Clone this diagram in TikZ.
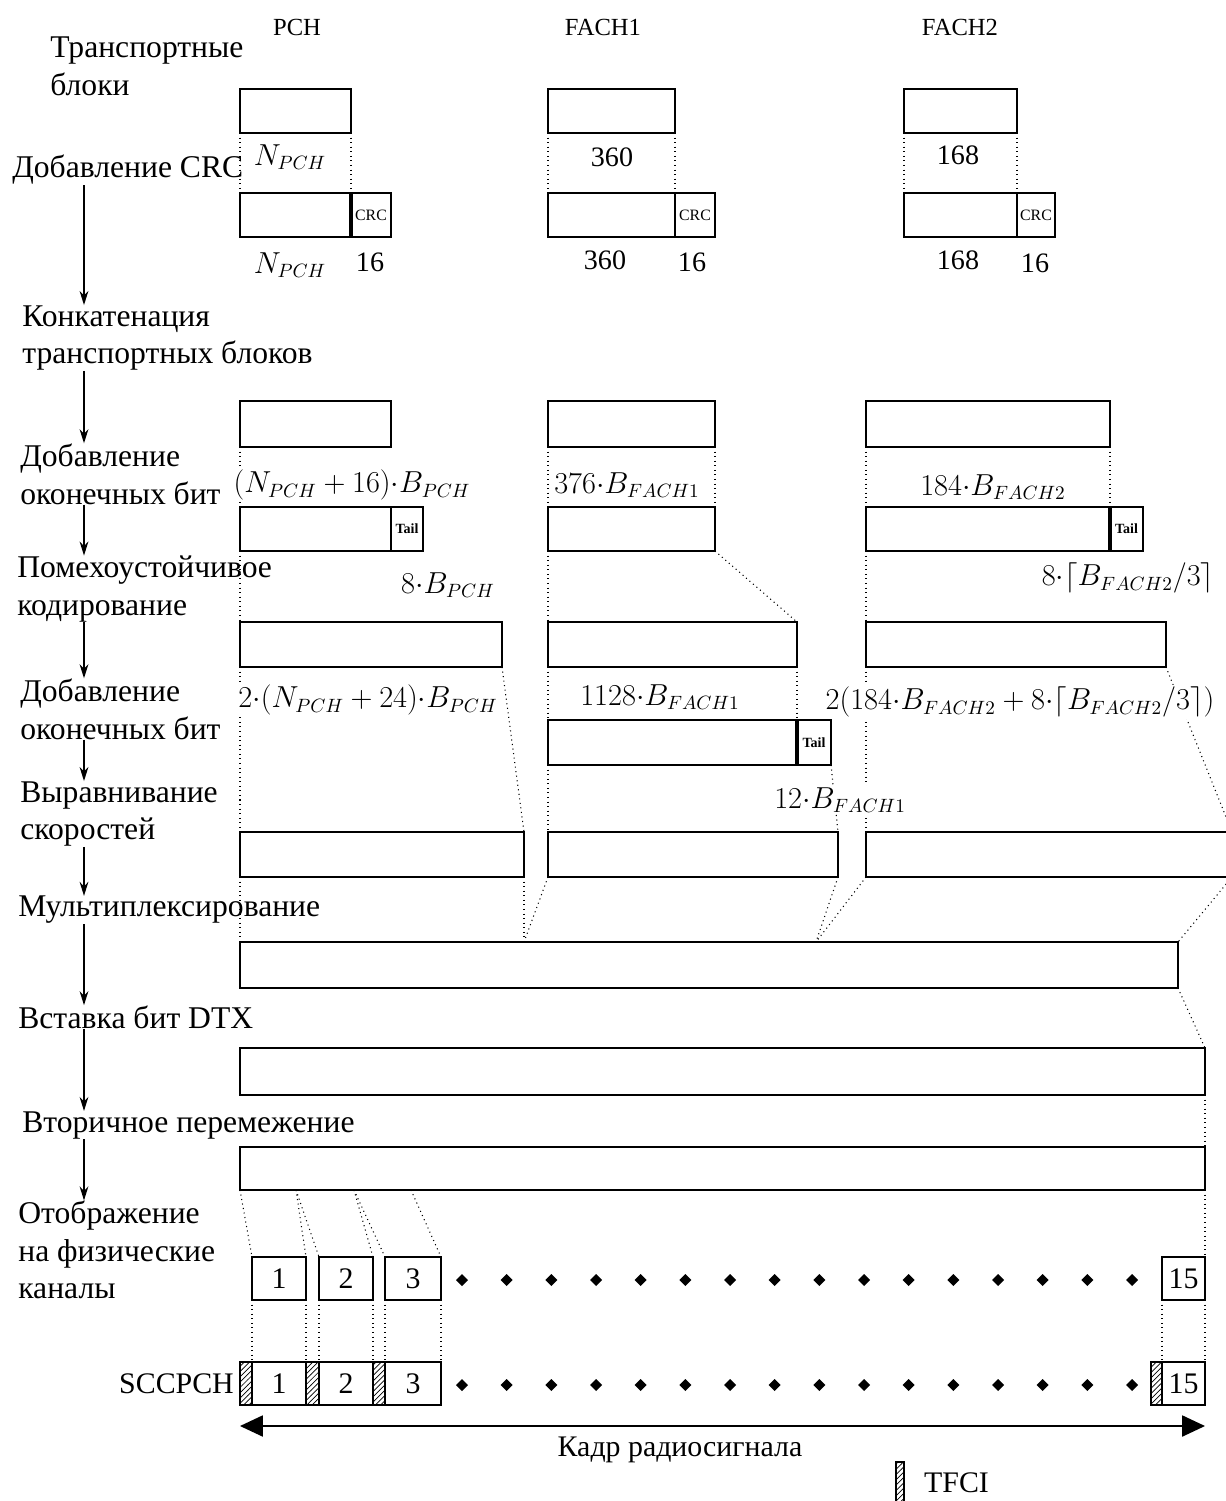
\documentclass[tikz,border=0pt]{standalone}
\usepackage{fontspec}
\setmainfont{Liberation Serif}
\usetikzlibrary{arrows.meta, fit, patterns}

\begin{document}
\begin{tikzpicture}[x=0.02cm, y=-0.02cm,
    blk/.style={draw, line width=0.9pt, inner sep=0pt, outer sep=0pt},
    crc/.style={blk, label={[font=\fontsize{9}{9}\selectfont]center:CRC}},
    tailbox/.style={blk, label={[font=\bfseries\fontsize{8}{8}\selectfont]center:Tail}},
    slot/.style={blk, label={[font=\fontsize{17}{20}\selectfont]center:#1}},
    tfci/.style={blk, pattern=north east lines},
    sep/.style={line width=2.2pt},
    link/.style={dotted, line width=0.6pt},
    flow/.style={-{Stealth[length=8pt, width=5pt]}, line width=0.8pt},
    frame/.style={{Triangle[length=13pt, width=12pt]}-{Triangle[length=13pt, width=12pt]}, line width=0.9pt},
    steplbl/.style={align=left, anchor=west, inner sep=0pt, font=\fontsize{18}{21.5}\selectfont},
    val/.style={fill=white, inner sep=1pt, font=\fontsize{16}{19}\selectfont},
    hdr/.style={font=\fontsize{14}{16}\selectfont},
    num/.style={font=\fontsize{17}{20}\selectfont}
  ]
    \path[use as bounding box, clip] (0,0) rectangle (1226,1501);

    % Шаги обработки (слева)
    \node[steplbl] (s1) at (50,66) {Транспортные\\блоки};
    \node[steplbl] (s2) at (12,170) {Добавление CRC};
    \node[steplbl] (s3) at (22,338) {Конкатенация\\транспортных блоков};
    \node[steplbl] (s4) at (20,474) {Добавление\\оконечных бит};
    \node[steplbl] (s5) at (17,589) {Помехоустойчивое\\кодирование};
    \node[steplbl] (s6) at (20,709) {Добавление\\оконечных бит};
    \node[steplbl] (s7) at (20,814) {Выравнивание\\скоростей};
    \node[steplbl] (s8) at (18,910) {Мультиплексирование};
    \node[steplbl] (s9) at (18,1017) {Вставка бит DTX};
    \node[steplbl] (s10) at (22,1125) {Вторичное перемежение};
    \node[steplbl] (s11) at (18,1250) {Отображение\\на физические\\каналы};

    \coordinate (ax) at (84,0);
    \foreach \a/\b in {s2/s3, s3/s4, s4/s5, s5/s6, s6/s7, s7/s8, s8/s9, s9/s10, s10/s11}
      \draw[flow] (\a.south -| ax) -- (\b.north -| ax);

    % Заголовки каналов
    \node[hdr] (hpch) at (297,27) {PCH};
    \node[hdr] (hf1) at (603,27) {FACH1};
    \node[hdr] (hf2) at (960,27) {FACH2};

    % Транспортные блоки
    \node[blk, fit={(240,89) (351,133)}] (p1) {};
    \node[blk, fit={(548,89) (675,133)}] (a1) {};
    \node[blk, fit={(904,89) (1017,133)}] (b1) {};

    % Добавление CRC
    \node[blk, fit={(240,193) (351,237)}] (p2) {};
    \node[crc, fit={(351,193) (391,237)}] (p2c) {};
    \node[blk, fit={(548,193) (675,237)}] (a2) {};
    \node[crc, fit={(675,193) (715,237)}] (a2c) {};
    \node[blk, fit={(904,193) (1017,237)}] (b2) {};
    \node[crc, fit={(1017,193) (1055,237)}] (b2c) {};
    \draw[sep] (p2.north east) -- (p2.south east);

    % Конкатенация
    \node[blk, fit={(240,401) (391,447)}] (p3) {};
    \node[blk, fit={(548,401) (715,447)}] (a3) {};
    \node[blk, fit={(866,401) (1110,447)}] (b3) {};

    % Оконечные биты
    \node[blk, fit={(240,507) (391,551)}] (p4) {};
    \node[tailbox, fit={(391,507) (423,551)}] (p4t) {};
    \node[blk, fit={(548,507) (715,551)}] (a4) {};
    \node[blk, fit={(866,507) (1110,551)}] (b4) {};
    \node[tailbox, fit={(1110,507) (1143,551)}] (b4t) {};
    \draw[sep] (b4.north east) -- (b4.south east);

    % Кодирование
    \node[blk, fit={(240,622) (502,667)}] (p5) {};
    \node[blk, fit={(548,622) (797,667)}] (a5) {};
    \node[blk, fit={(866,622) (1166,667)}] (b5) {};

    % Оконечные биты FACH1
    \node[blk, fit={(548,720) (797,765)}] (a5b) {};
    \node[tailbox, fit={(797,720) (831,765)}] (a5t) {};
    \draw[sep] (a5b.north east) -- (a5b.south east);

    % Выравнивание скоростей
    \node[blk, fit={(240,832) (524,877)}] (p6) {};
    \node[blk, fit={(548,832) (838,877)}] (a6) {};
    \node[blk, fit={(866,832) (1232,877)}] (b6) {};

    % Мультиплексирование, DTX, перемежение
    \node[blk, fit={(240,942) (1178,988)}] (mx) {};
    \node[blk, fit={(240,1048) (1205,1095)}] (dtx) {};
    \node[blk, fit={(240,1147) (1205,1190)}] (il) {};
    \coordinate (mj1) at (524,942);
    \coordinate (mj2) at (816,942);
    \coordinate (ij1) at (296,1190);
    \coordinate (ij2) at (354,1190);
    \coordinate (ij3) at (411,1190);

    % Физические каналы
    \node[slot=1, fit={(252,1257) (306,1300)}] (ph1) {};
    \node[slot=2, fit={(319,1257) (373,1300)}] (ph2) {};
    \node[slot=3, fit={(385,1257) (441,1300)}] (ph3) {};
    \node[slot=15, fit={(1162,1257) (1205,1300)}] (ph15) {};

    % SCCPCH
    \node[tfci, fit={(240,1362) (252,1405)}] (t1) {};
    \node[slot=1, fit={(252,1362) (306,1405)}] (sc1) {};
    \node[tfci, fit={(306,1362) (319,1405)}] (t2) {};
    \node[slot=2, fit={(319,1362) (373,1405)}] (sc2) {};
    \node[tfci, fit={(373,1362) (385,1405)}] (t3) {};
    \node[slot=3, fit={(385,1362) (441,1405)}] (sc3) {};
    \node[tfci, fit={(1151,1362) (1162,1405)}] (t15) {};
    \node[slot=15, fit={(1162,1362) (1205,1405)}] (sc15) {};
    \node[num, anchor=east] (lsc) at (t1.west) {SCCPCH};

    \foreach \i in {0,...,15} {
      \fill ({462+44.67*\i},1280) +(-6,0) -- +(0,-6) -- +(6,0) -- +(0,6) -- cycle;
      \fill ({462+44.67*\i},1385) +(-6,0) -- +(0,-6) -- +(6,0) -- +(0,6) -- cycle;
    }

    % Пунктирные связи
    \draw[link] (p1.south west) -- (p2.north west);
    \draw[link] (p1.south east) -- (p2.north east);
    \draw[link] (a1.south west) -- (a2.north west);
    \draw[link] (a1.south east) -- (a2.north east);
    \draw[link] (b1.south west) -- (b2.north west);
    \draw[link] (b1.south east) -- (b2.north east);
    \draw[link] (p3.south west) -- (p4.north west);
    \draw[link] (a3.south west) -- (a4.north west);
    \draw[link] (a3.south east) -- (a4.north east);
    \draw[link] (b3.south west) -- (b4.north west);
    \draw[link] (b3.south east) -- (b4.north east);
    \draw[link] (p4.south west) -- (p5.north west);
    \draw[link] (a4.south west) -- (a5.north west);
    \draw[link] (a4.south east) -- (a5.north east);
    \draw[link] (b4.south west) -- (b5.north west);
    \draw[link] (p5.south west) -- (p6.north west);
    \draw[link] (p5.south east) -- (p6.north east);
    \draw[link] (a5.south west) -- (a5b.north west);
    \draw[link] (a5.south east) -- (a5b.north east);
    \draw[link] (a5b.south west) -- (a6.north west);
    \draw[link] (a5t.south east) -- (a6.north east);
    \draw[link] (b5.south west) -- (b6.north west);
    \draw[link] (b5.south east) -- (b6.north east);
    \draw[link] (p6.south west) -- (mx.north west);
    \draw[link] (p6.south east) -- (mj1);
    \draw[link] (a6.south west) -- (mj1);
    \draw[link] (a6.south east) -- (mj2);
    \draw[link] (b6.south west) -- (mj2);
    \draw[link] (b6.south east) -- (mx.north east);
    \draw[link] (mx.south east) -- (dtx.north east);
    \draw[link] (dtx.south east) -- (il.north east);
    \draw[link] (il.south west) -- (ph1.north west);
    \draw[link] (ij1) -- (ph1.north east);
    \draw[link] (ij1) -- (ph2.north west);
    \draw[link] (ij2) -- (ph2.north east);
    \draw[link] (ij2) -- (ph3.north west);
    \draw[link] (ij3) -- (ph3.north east);
    \draw[link] (il.south east) -- (ph15.north east);
    \foreach \u/\v in {ph1/sc1, ph2/sc2, ph3/sc3, ph15/sc15} {
      \draw[link] (\u.south west) -- (\v.north west);
      \draw[link] (\u.south east) -- (\v.north east);
    }

    % Размеры блоков
    \node[val] (n1p) at (290,157) {$N_{PCH}$};
    \node[val] (n1a) at (612,157) {360};
    \node[val] (n1b) at (958,155) {168};
    \node[val] (n2p) at (290,265) {$N_{PCH}$};
    \node[val] (n2pc) at (370,262) {16};
    \node[val] (n2a) at (605,260) {360};
    \node[val] (n2ac) at (692,262) {16};
    \node[val] (n2b) at (958,260) {168};
    \node[val] (n2bc) at (1035,263) {16};
    \node[val] (n3p) at (352,485) {$(N_{PCH}+16){\cdot}B_{PCH}$};
    \node[val] (n3a) at (627,485) {$376{\cdot}B_{FACH1}$};
    \node[val] (n3b) at (993,487) {$184{\cdot}B_{FACH2}$};
    \node[val] (n4p) at (448,585) {$8{\cdot}B_{PCH}$};
    \node[val] (n4b) at (1128,578) {$8{\cdot}\Bigl\lceil B_{FACH2}/3\Bigr\rceil$};
    \node[val] (n5p) at (368,700) {$2{\cdot}(N_{PCH}+24){\cdot}B_{PCH}$};
    \node[val] (n5a) at (660,697) {$1128{\cdot}B_{FACH1}$};
    \node[val] (n5b) at (1020,702) {$2\Bigl(184{\cdot}B_{FACH2}+8{\cdot}\Bigl\lceil B_{FACH2}/3\Bigr\rceil\Bigr)$};
    \node[val] (n5t) at (840,800) {$12{\cdot}B_{FACH1}$};

    % Кадр радиосигнала
    \coordinate (fl) at (240,1426);
    \coordinate (fr) at (1205,1426);
    \draw[frame] (fl) -- (fr);
    \node[num] (kadr) at (680,1450) {Кадр радиосигнала};

    % Легенда
    \node[tfci, fit={(896,1462) (904,1505)}] (leg) {};
    \node[num, anchor=west] (legt) at (918,1483) {TFCI};

  \end{tikzpicture}
\end{document}
